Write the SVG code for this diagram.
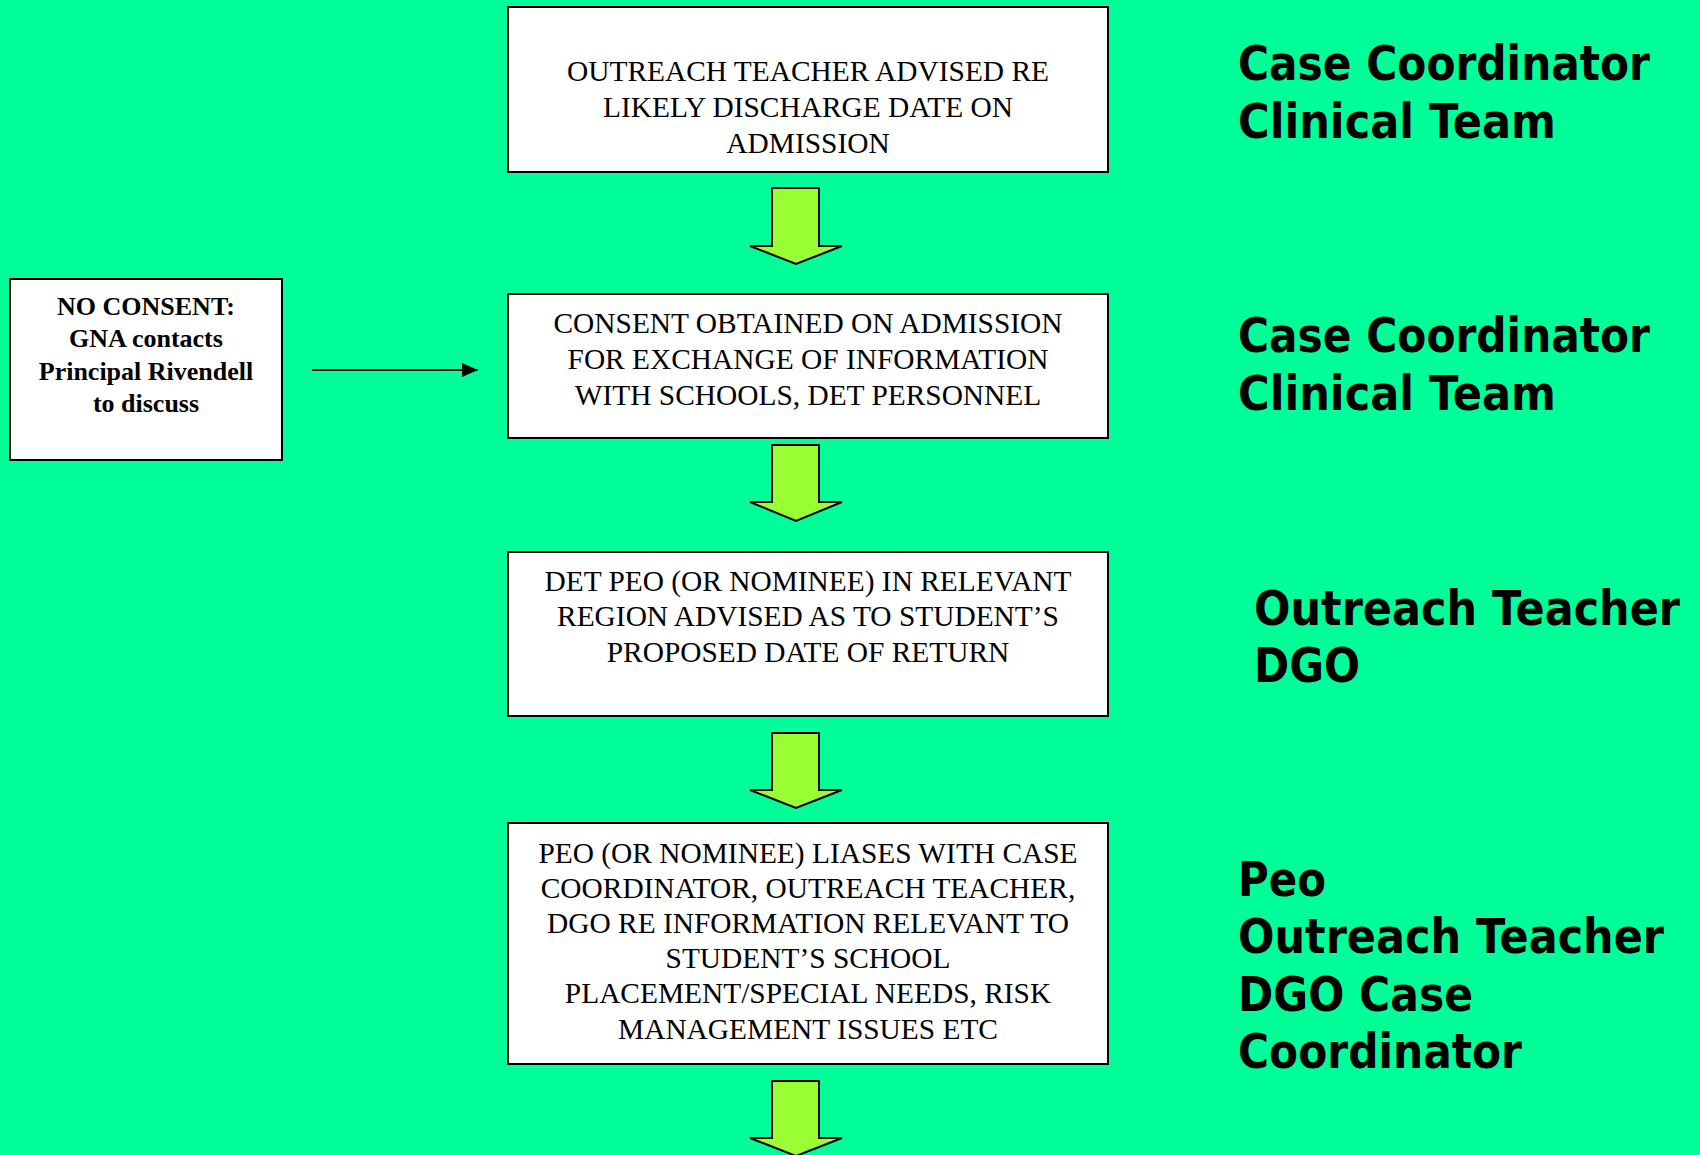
<svg xmlns="http://www.w3.org/2000/svg" width="1700" height="1155" viewBox="0 0 1700 1155">
<style>
.box{fill:#ffffff;stroke:#000000;stroke-width:2}
.bt{font-family:"Liberation Serif","Times New Roman",serif;font-size:29.4px;fill:#000;text-anchor:middle}
.lt{font-family:"Liberation Serif","Times New Roman",serif;font-size:26px;font-weight:bold;fill:#000;text-anchor:middle}
.rl{font-family:"DejaVu Sans",Verdana,sans-serif;font-size:43px;font-weight:bold;fill:#000}
.dn{fill:#99FF33;stroke:#000;stroke-width:2;stroke-linejoin:miter}
</style>
<defs>
<marker id="ah" viewBox="0 0 16 14" refX="16" refY="7" markerWidth="16" markerHeight="14" markerUnits="userSpaceOnUse" orient="auto">
<polygon points="0,0 16,7 0,14" fill="#000"/>
</marker>
</defs>
<rect width="1700" height="1155" fill="#00FF99"/>

<g id="node-outreach-advised">
<rect class="box" x="508" y="7" width="600" height="165"/>
<text class="bt" x="808" y="81">OUTREACH TEACHER ADVISED RE</text>
<text class="bt" x="808" y="117">LIKELY DISCHARGE DATE ON</text>
<text class="bt" x="808" y="153">ADMISSION</text>
</g>

<g id="node-consent">
<rect class="box" x="508" y="294" width="600" height="144"/>
<text class="bt" x="808" y="333">CONSENT OBTAINED ON ADMISSION</text>
<text class="bt" x="808" y="369">FOR EXCHANGE OF INFORMATION</text>
<text class="bt" x="808" y="405">WITH SCHOOLS, DET PERSONNEL</text>
</g>

<g id="node-det-peo">
<rect class="box" x="508" y="552" width="600" height="164"/>
<text class="bt" x="808" y="591">DET PEO (OR NOMINEE) IN RELEVANT</text>
<text class="bt" x="808" y="626">REGION ADVISED AS TO STUDENT’S</text>
<text class="bt" x="808" y="662">PROPOSED DATE OF RETURN</text>
</g>

<g id="node-peo-liases">
<rect class="box" x="508" y="823" width="600" height="241"/>
<text class="bt" x="808" y="863">PEO (OR NOMINEE) LIASES WITH CASE</text>
<text class="bt" x="808" y="898">COORDINATOR, OUTREACH TEACHER,</text>
<text class="bt" x="808" y="933">DGO RE INFORMATION RELEVANT TO</text>
<text class="bt" x="808" y="968">STUDENT’S SCHOOL</text>
<text class="bt" x="808" y="1003">PLACEMENT/SPECIAL NEEDS, RISK</text>
<text class="bt" x="808" y="1039">MANAGEMENT ISSUES ETC</text>
</g>

<g id="node-no-consent">
<rect class="box" x="10" y="279" width="272" height="181"/>
<text class="lt" x="146" y="315">NO CONSENT:</text>
<text class="lt" x="146" y="347">GNA contacts</text>
<text class="lt" x="146" y="380">Principal Rivendell</text>
<text class="lt" x="146" y="412">to discuss</text>
</g>

<g id="label-1">
<text class="rl" transform="translate(1238,80) scale(1,1.12)" x="0" y="0" textLength="412" lengthAdjust="spacingAndGlyphs">Case Coordinator</text>
<text class="rl" transform="translate(1238,138) scale(1,1.12)" x="0" y="0" textLength="318" lengthAdjust="spacingAndGlyphs">Clinical Team</text>
</g>
<g id="label-2">
<text class="rl" transform="translate(1238,352) scale(1,1.12)" x="0" y="0" textLength="412" lengthAdjust="spacingAndGlyphs">Case Coordinator</text>
<text class="rl" transform="translate(1238,410) scale(1,1.12)" x="0" y="0" textLength="318" lengthAdjust="spacingAndGlyphs">Clinical Team</text>
</g>
<g id="label-3">
<text class="rl" transform="translate(1254,625) scale(1,1.12)" x="0" y="0" textLength="426" lengthAdjust="spacingAndGlyphs">Outreach Teacher</text>
<text class="rl" transform="translate(1254,682) scale(1,1.12)" x="0" y="0" textLength="106" lengthAdjust="spacingAndGlyphs">DGO</text>
</g>
<g id="label-4">
<text class="rl" transform="translate(1238,896) scale(1,1.12)" x="0" y="0" textLength="88" lengthAdjust="spacingAndGlyphs">Peo</text>
<text class="rl" transform="translate(1238,953) scale(1,1.12)" x="0" y="0" textLength="426" lengthAdjust="spacingAndGlyphs">Outreach Teacher</text>
<text class="rl" transform="translate(1238,1011) scale(1,1.12)" x="0" y="0" textLength="235" lengthAdjust="spacingAndGlyphs">DGO Case</text>
<text class="rl" transform="translate(1238,1068) scale(1,1.12)" x="0" y="0" textLength="284" lengthAdjust="spacingAndGlyphs">Coordinator</text>
</g>

<g id="connectors">
<polygon class="dn" points="772,188 819,188 819,246 842,246 796,264 750,246 772,246"/>
<polygon class="dn" points="772,445 819,445 819,502 842,502 796,521 750,502 772,502"/>
<polygon class="dn" points="772,733 819,733 819,790 842,790 796,808 750,790 772,790"/>
<polygon class="dn" points="772,1081 819,1081 819,1138 842,1138 796,1156 750,1138 772,1138"/>
<line x1="312" y1="370" x2="478" y2="370" stroke="#000" stroke-width="2" marker-end="url(#ah)"/>
</g>
</svg>
